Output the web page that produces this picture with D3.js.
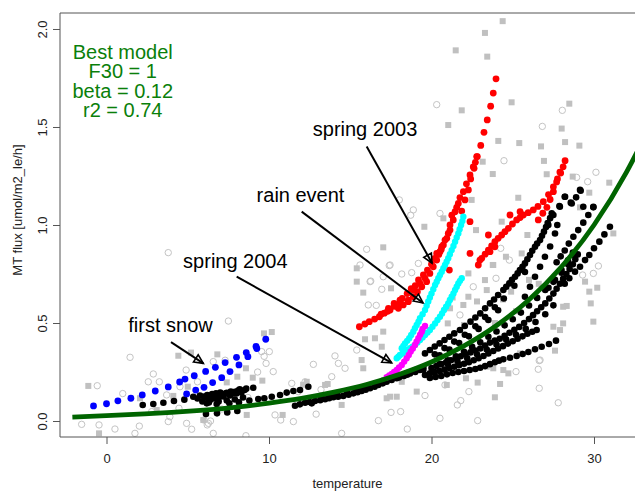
<!DOCTYPE html>
<html>
<head>
<meta charset="utf-8">
<script src="https://cdn.jsdelivr.net/npm/d3@7"></script>
<style>
  body { margin: 0; background: #fff; }
  svg { display: block; font-family: "Liberation Sans", Arial, sans-serif; }
</style>
</head>
<body>
<div id="chart"></div>
<script>
// ---- data (temperature, MT flux) ----
const greySquares = [
  [24.38,2.04],[23.29,1.98],[21.49,1.891],[23.43,1.859],[24.93,1.626],[21.86,1.585],[21.03,1.51],
  [24.11,1.429],[25.4,1.418],[26.74,1.401],[28.01,1.492],[28.22,1.423],[28.48,1.619],[29.1,1.405],
  [23.15,1.323],[23.77,1.26],[26.92,1.327],[27.09,1.259],[28.69,1.247],[30.94,1.216],[25.34,1.139],
  [22.47,1.128],[24.32,1.017],[19.56,0.991],[20.73,1.034],[17.03,0.886],[29.71,1.165],[31.19,0.957],
  [29.14,1.09],[25.9,0.949],[24.58,0.838],[23.77,0.796],[25.55,0.855],[29.45,0.711],[29.71,0.66],
  [23.29,0.719],[23.4,0.668],[28.32,0.587],[29.96,0.507],[28.1,0.498],[27.91,0.464],[27.6,0.359],
  [25.45,0.345],[23.8,0.269],[24.42,0.26],[24.73,0.243],[22.12,0.218],[22.84,0.196],[24.22,0.189],
  [23.9,0.121],[21.96,0.592],[22.27,0.634],[15.4,0.711],[15.91,0.417],[16.52,0.422],[15.7,0.311],
  [13.45,0.184],[14.47,0.082],[17.45,0.124],[17.86,0.124],[19.09,0.15],[18.17,0.2],[17.03,0.456],
  [16.94,0.379],[21.14,0.575],[22.27,0.753],[23.8,0.796],[23.4,0.277],[27.5,0.481],[28.1,0.583],
  [-1.12,0.179],[-0.46,-0.063],[4.42,0.333],[6.82,0.34],[5.2,0.349],[8.58,0.269],[8.05,0.226],
  [9.0,0.221],[9.59,0.206],[9.69,0.447],[10.17,0.454],[5.0,0.175],[4.11,0.128],[5.96,0.005],
  [8.63,0.031],[10.84,0.031],[12.32,0.2],[12.1,0.185],[13.61,0.189],[15.8,0.269],[17.24,0.116],
  [21.0,0.498],[20.94,0.184],[15.4,0.779],[15.8,0.655],[17.51,0.677],[22.74,0.974],[7.4,0.197],
  [3.09,0.056],[2.06,0.116],[21.3,0.63],[22.8,0.61],[24.4,0.62],[25.2,0.56],[23.9,0.5],[22.0,0.49],
  [26.0,0.72],[26.6,0.7],[24.9,0.66],[30.2,0.68],[29.8,0.6]
];

const greyCircles = [
  [20.32,1.614],[28.05,1.585],[26.82,1.503],[24.46,1.328],[30.12,1.269],[29.61,1.221],[28.93,1.243],
  [18.02,1.128],[18.88,1.077],[18.72,1.05],[20.52,1.059],[16.01,0.876],[30.27,0.791],[29.96,0.753],
  [29.3,0.745],[24.26,0.881],[23.97,0.728],[22.57,0.685],[21.75,0.541],[26.63,0.308],[26.57,0.264],
  [25.2,0.252],[26.63,0.167],[27.8,0.093],[21.8,0.104],[21.59,0.082],[22.84,0.002],[18.51,-0.041],
  [16.73,0.002],[17.51,0.044],[18.1,0.048],[20.52,0.014],[14.47,-0.063],[14.06,0.332],[14.68,0.269],
  [13.86,0.226],[16.22,0.711],[16.94,0.672],[17.45,0.796],[18.17,0.75],[18.78,0.757],[15.6,0.796],
  [16.11,0.592],[20.83,0.184],[24.79,0.821],[26.68,0.311],[-0.57,0.18],[1.45,0.325],[7.5,0.51],
  [-1.53,-0.017],[-0.46,-0.02],[0.52,-0.041],[1.75,-0.063],[2.88,0.24],[3.25,0.2],[4.46,0.065],
  [5.24,-0.042],[6.27,-0.012],[6.57,-0.063],[8.58,-0.075],[9.82,0.294],[10.02,0.354],[10.26,0.252],
  [12.73,0.289],[3.8,0.859],[10.72,0.005],[3.8,-0.003],[2.78,0.048],[7.09,0.061],[9.55,0.354],
  [11.4,0.192],[12.22,0.2],[10.37,0.031],[11.5,-0.003],[14.27,0.294],[15.4,0.362],[16.26,0.714],
  [17.03,0.736],[17.4,0.793],[19.19,0.804],[16.6,0.59],[9.7,0.33],[9.3,0.25],[8.7,0.12],[6.0,0.005],
  [6.4,0.0],[6.2,-0.02],[5.6,0.2],[7.3,0.31],[1.0,0.14],[4.9,0.26],[11.8,0.15],[13.2,0.16],
  [12.9,0.035],[19.6,0.13],[22.3,0.15],[2.57,0.2],[3.7,0.133],[2.02,-0.026],[3.9,0.022],[4.93,-0.012],
  [6.57,0.303],[4.52,0.175]
];

const blackTracks = [
  [[2.23,0.082],[2.88,0.087],[3.5,0.093],[4.15,0.102],[4.79,0.109],[5.34,0.124],[5.75,0.13],[6.2,0.133],
   [6.5,0.138],[6.74,0.141],[7.0,0.145],[7.4,0.144],[7.65,0.15],[7.9,0.149],[8.2,0.162],[8.5,0.158],[9.03,0.17]],
  [[5.9,0.1],[6.37,0.107],[6.6,0.115],[6.9,0.12],[7.2,0.125],[7.6,0.13],[8.0,0.14],[8.3,0.145],
   [6.1,0.12],[7.1,0.135],[7.8,0.14]],
  [[5.6,0.115],[6.0,0.125],[6.5,0.128],[7.0,0.132],[7.3,0.14],[7.7,0.145],[8.1,0.155],[8.6,0.165],
   [6.3,0.095],[6.9,0.1],[7.4,0.105],[7.9,0.11],[8.4,0.12]],
  [[6.17,0.09],[6.78,0.087],[7.56,0.09],[8.15,0.095],[8.79,0.104],[9.34,0.112],[9.71,0.116],[10.17,0.124],
   [10.68,0.133],[11.09,0.145],[11.5,0.153],[11.91,0.158],[12.42,0.175],[12.63,0.09]],
  [[6.12,0.036],[6.8,0.039],[7.43,0.044],[8.05,0.051]],
  [[11.6,0.078],[12.22,0.093],[12.83,0.102],[13.45,0.111],[13.96,0.121],[14.57,0.128],[15.19,0.141],
   [15.7,0.153],[16.22,0.167],[16.73,0.184],[17.24,0.2],[17.86,0.218],[18.3,0.23],[18.68,0.243],[19.29,0.26]],
  [[11.9,0.085],[12.5,0.097],[13.15,0.106],[13.7,0.116],[14.25,0.124],[14.9,0.134],[15.45,0.147],
   [15.95,0.16],[16.5,0.175],[17.0,0.192],[17.55,0.209],[18.0,0.222],[18.5,0.236],[19.0,0.25],[19.5,0.262]],
  [[13.2,0.125],[13.7,0.133],[14.2,0.14],[14.8,0.15],[15.4,0.163],[15.9,0.175],[16.5,0.19],[17.0,0.205],
   [17.5,0.215],[18.0,0.228],[18.5,0.245],[19.0,0.26],[19.5,0.275]],
  // bands below the model curve
  [[19.6,0.235],[19.9,0.243],[20.5,0.255],[21.1,0.27],[21.7,0.285],[22.3,0.3],[22.9,0.32],[23.5,0.345],
   [24.1,0.37],[24.7,0.395],[25.3,0.42],[25.9,0.445],[26.47,0.464]],
  [[20.2,0.25],[20.8,0.262],[21.4,0.277],[22.0,0.292],[22.6,0.31],[23.2,0.332],[23.8,0.357],[24.4,0.382],
   [25.0,0.407],[25.6,0.432],[26.2,0.455]],
  [[19.9,0.22],[20.6,0.23],[21.3,0.245],[22.0,0.255],[22.7,0.265],[23.3,0.28],[23.9,0.3],[24.42,0.315],
   [24.83,0.323],[25.24,0.332],[25.61,0.342],[25.96,0.352],[26.37,0.366],[26.78,0.379],[27.23,0.393],[27.66,0.41]],
  [[20.25,0.225],[20.95,0.238],[21.65,0.25],[22.35,0.26],[23.0,0.272],[23.6,0.29],[24.15,0.308]],
  [[21.0,0.29],[21.6,0.305],[22.2,0.32],[22.8,0.34],[23.4,0.365],[24.0,0.39],[24.6,0.415],[25.2,0.44],
   [25.8,0.47],[26.4,0.505],[27.0,0.545],[27.5,0.59]],
  [[20.0,0.27],[20.6,0.29],[21.2,0.31],[21.8,0.33],[22.4,0.35],[23.0,0.37],[23.6,0.4],[24.2,0.42],
   [24.8,0.45],[25.4,0.48],[26.0,0.52],[26.5,0.56],[27.0,0.6],[27.5,0.65],[27.9,0.7],[28.3,0.75],[28.7,0.8],[29.0,0.85]],
  [[20.3,0.28],[20.9,0.3],[21.5,0.32],[22.1,0.34],[22.7,0.36],[23.3,0.385],[23.9,0.41],[24.5,0.435],
   [25.1,0.465],[25.7,0.5],[26.25,0.54],[26.75,0.58],[27.25,0.625],[27.7,0.675],[28.1,0.725],[28.5,0.775],[28.85,0.825]],
  [[20.5,0.29],[21.0,0.31],[21.5,0.33],[22.0,0.353],[22.5,0.378],[23.0,0.402],[23.5,0.43],[24.0,0.457],
   [24.5,0.488],[25.0,0.519],[25.5,0.553],[26.0,0.589],[26.5,0.628],[27.0,0.668],[27.5,0.71],[28.0,0.757],
   [28.4,0.8],[28.8,0.845]],
  [[27.2,0.68],[27.6,0.72],[28.0,0.77],[28.4,0.82],[28.7,0.86]],
  // bands above the model curve
  [[19.6,0.345],[19.9,0.362],[20.5,0.396],[21.1,0.43],[21.75,0.464],[22.4,0.507],[23.0,0.549],[23.6,0.6],
   [24.1,0.643],[24.42,0.668],[24.79,0.702],[25.14,0.736],[25.44,0.77],[25.75,0.804],[26.06,0.847],
   [26.37,0.889],[26.68,0.923],[26.92,0.966],[27.15,1.01],[27.4,1.06],[27.87,1.097],[28.2,1.144],
   [28.57,1.114],[28.9,1.141],[29.18,1.175]],
  [[20.2,0.38],[20.8,0.413],[21.4,0.447],[22.05,0.485],[22.7,0.528],[23.3,0.575],[23.85,0.62],[24.6,0.685],
   [24.95,0.72],[25.3,0.753],[25.6,0.787],[25.9,0.825],[26.2,0.868],[26.5,0.905],[26.8,0.945],[27.05,0.99],[27.3,1.035]],
  [[20.2,0.34],[20.8,0.372],[21.4,0.405],[22.05,0.44],[22.7,0.483],[23.3,0.53],[23.9,0.58],[24.45,0.625],
   [25.1,0.69],[25.75,0.76]],
  [[20.5,0.335],[21.1,0.365],[21.7,0.398],[22.3,0.432],[22.9,0.47],[23.5,0.515],[24.1,0.565]],
  [[25.75,0.634],[26.06,0.685],[26.37,0.736],[26.68,0.787],[26.98,0.838],[27.3,0.89],[27.6,0.957],[27.74,1.0]],
  [[28.2,0.7],[28.48,0.728],[28.83,0.762],[29.14,0.787],[29.45,0.821],[29.71,0.847],[30.0,0.881],
   [30.33,0.915],[30.64,0.952],[30.98,0.991]],
  [[27.7,0.81],[27.95,0.84],[28.2,0.87],[28.45,0.905],[28.73,0.94],[29.03,0.974],[29.34,1.012],[29.65,1.051],[29.96,1.09]],
  [[27.19,1.0],[27.5,1.051],[27.9,1.093],[28.22,1.144],[28.63,1.11],[29.14,1.179],[29.34,1.093],[29.96,1.093]]
];

const blueSnow = [
  [-0.8,0.077],[0.0,0.088],[0.7,0.103],[1.5,0.116],[2.2,0.133],[3.0,0.153],[3.8,0.174],[4.5,0.199],
  [4.83,0.214],[5.4,0.231],[6.1,0.253],[6.7,0.274],[7.3,0.298],[8.0,0.325],[8.6,0.349],[9.2,0.38],[9.8,0.417],
  [4.93,0.138],[5.49,0.158],[6.0,0.172],[6.53,0.196],[7.09,0.221],[7.6,0.252],[8.15,0.286],[8.7,0.328],[9.25,0.37]
];

const redSpring2003 = [
  [17.35,0.575],[17.96,0.575],[18.06,0.617],[18.26,0.592],[18.57,0.609],[18.88,0.634],[18.88,0.668],
  [19.13,0.66],[19.29,0.702],[19.4,0.685],[19.6,0.728],[19.7,0.711],[19.9,0.753],[20.11,0.787],
  [20.32,0.821],[20.32,0.855],[20.52,0.864],[20.63,0.889],[20.73,0.898],[20.83,0.923],[20.94,0.932],
  [21.03,0.957],[21.14,0.974],[21.14,1.0],[21.34,1.026],[21.45,1.068],[21.65,1.11],[21.86,1.071],
  [21.96,1.17],[22.06,1.128],[22.27,1.179],[22.37,1.255],[22.41,1.235],[22.57,1.297],[22.62,1.289],
  [22.78,1.349],[22.82,1.349],[23.03,1.406],[23.23,1.473],[23.43,1.536],[23.64,1.606],[23.8,1.673],[23.97,1.746],
  [15.56,0.481],[16.17,0.507],[16.79,0.532],[17.1,0.55],[17.45,0.566],[17.7,0.585],[18.06,0.6],[18.57,0.617],
  [17.7,0.6],[18.2,0.625],[18.5,0.65],[18.75,0.675],[19.0,0.69],[19.2,0.72],[19.5,0.745],[19.75,0.77],
  [20.0,0.8],[20.2,0.83],[20.45,0.85],[20.6,0.875],[16.5,0.52],[16.9,0.545],[17.3,0.56],[15.9,0.495],
  [21.25,1.05],[21.55,1.09],[21.75,1.14],[22.15,1.21],[22.7,1.32],
  [21.1,0.77],[22.37,1.017]
];

const redRight = [
  [28.22,1.328],[28.1,1.297],[27.95,1.265],[27.75,1.235],[27.5,1.195],[27.2,1.155],[26.88,1.119],
  [26.55,1.095],[26.26,1.077],[25.95,1.063],[25.65,1.051],[25.45,1.038],[25.24,1.026],[24.98,1.005],
  [24.73,0.983],[24.52,0.966],[24.32,0.949],[24.1,0.932],[23.9,0.915],[23.7,0.893],[23.5,0.872],
  [23.3,0.851],[23.09,0.83],[22.88,0.796],
  [27.9,1.27],[27.7,1.22],[27.5,1.17],[27.3,1.13],[27.1,1.09],[26.85,1.06],[26.57,1.026],
  [22.37,0.855],[22.98,0.821],[23.5,0.949],[23.6,0.864],[23.9,0.889],[24.83,1.051],[25.45,1.068]
];

const cyanRain = [
  [21.96,1.042],[21.82,1.0],[21.65,0.957],[21.45,0.915],[21.24,0.872],[21.03,0.83],[20.83,0.796],
  [20.63,0.762],[20.42,0.728],[20.22,0.694],[20.0,0.65],[19.8,0.61],[19.6,0.566],[19.29,0.524],
  [19.09,0.49],[18.88,0.456],[18.63,0.422],[18.37,0.396],[18.17,0.371],
  [21.9,1.02],[21.73,0.978],[21.55,0.936],[21.35,0.893],[21.13,0.851],[20.93,0.813],[20.73,0.779],
  [20.52,0.745],[20.32,0.711],[20.11,0.672],[19.9,0.63],[19.7,0.588],[19.45,0.545],[19.2,0.507],
  [18.98,0.473],[18.75,0.439],[18.5,0.409],[18.27,0.383],
  [21.86,0.728],[21.65,0.702],[21.45,0.668],[21.24,0.634],[21.03,0.6],[20.77,0.566],[20.52,0.532],
  [20.22,0.498],[19.9,0.464],[19.6,0.439],[19.29,0.413],[18.98,0.388],[18.68,0.371],[18.37,0.354],
  [18.06,0.337],[17.86,0.32],
  [21.75,0.715],[21.55,0.685],[21.35,0.651],[21.13,0.617],[20.9,0.583],[20.65,0.549],[20.37,0.515],
  [20.06,0.481],[19.75,0.451],[19.45,0.426],[19.13,0.4],[18.83,0.379],[18.52,0.362],[18.22,0.345],[17.96,0.328]
];

const magentaSpring2004 = [
  [19.6,0.485],[19.4,0.456],[19.19,0.422],[18.98,0.388],[18.72,0.354],[18.47,0.32],[18.17,0.286],
  [17.86,0.26],[17.55,0.24],[17.24,0.223],
  [19.45,0.47],[19.3,0.44],[19.08,0.405],[18.85,0.37],[18.6,0.337],[18.32,0.303],[18.0,0.273],[17.7,0.25],[17.4,0.232]
];

// best model curve
const modelT = [-2.1, 0, 2, 4, 6, 8, 10, 12, 14, 16, 18, 20, 22, 24, 26, 28, 30, 32, 33];
const modelF = [0.02, 0.027, 0.035, 0.044, 0.056, 0.071, 0.091, 0.115, 0.147, 0.186, 0.237, 0.301,
                0.383, 0.487, 0.619, 0.787, 1.0, 1.27, 1.43];

const xTicks = [0, 10, 20, 30];
const yTicks = [0, 0.5, 1.0, 1.5, 2.0];

const modelText = ['Best model', 'F30 = 1', 'beta = 0.12', 'r2 = 0.74'];
const labels = [
  { text: 'spring 2003', t: 15.91, f: 1.454 },
  { text: 'rain event', t: 11.94, f: 1.117 },
  { text: 'spring 2004', t: 7.93, f: 0.781 },
  { text: 'first snow', t: 3.94, f: 0.454 }
];
const arrows = [
  { from: [16.01, 1.4], to: [20.03, 0.806] },
  { from: [12.01, 1.068], to: [19.48, 0.602] },
  { from: [8.01, 0.736], to: [17.55, 0.297] },
  { from: [3.97, 0.402], to: [5.96, 0.294] }
];

// ---- drawing ----
const W = 635, H = 491;
const plot = { left: 60, top: 13, bottom: 437, right: 640 };

const svg = d3.select('#chart').append('svg').attr('width', W).attr('height', H);

const x = d3.scaleLinear().domain([-2.862, 32.523]).range([60, 635]);
const y = d3.scaleLinear().domain([-0.0816, 2.0816]).range([437, 13]);

svg.append('defs').append('clipPath').attr('id', 'clip')
  .append('rect')
  .attr('x', plot.left).attr('y', plot.top)
  .attr('width', plot.right - plot.left).attr('height', plot.bottom - plot.top);

const g = svg.append('g').attr('clip-path', 'url(#clip)');

g.append('g').selectAll('circle')
  .data(greyCircles).enter().append('circle')
  .attr('cx', (d) => x(d[0])).attr('cy', (d) => y(d[1]))
  .attr('r', 3.2)
  .style('fill', 'none').style('stroke', '#c4c4c4').style('stroke-width', 1);

g.append('g').selectAll('rect')
  .data(greySquares).enter().append('rect')
  .attr('x', (d) => x(d[0]) - 3).attr('y', (d) => y(d[1]) - 3)
  .attr('width', 6).attr('height', 6)
  .style('fill', '#c0c0c0');

function dots(data, color, r) {
  g.append('g').selectAll('circle')
    .data(data).enter().append('circle')
    .attr('cx', (d) => x(d[0])).attr('cy', (d) => y(d[1]))
    .attr('r', r)
    .style('fill', color);
}

dots(blackTracks.flat(), '#000', 3.3);
dots(blueSnow, '#0000ff', 3.4);
dots(redSpring2003, '#ff0000', 3.4);
dots(redRight, '#ff0000', 3.4);
dots(cyanRain, '#00ffff', 3.2);
dots(magentaSpring2004, '#ff00ff', 3.2);

const line = d3.line()
  .x((d, i) => x(modelT[i]))
  .y((d) => y(d))
  .curve(d3.curveMonotoneX);

g.append('path')
  .attr('d', line(modelF))
  .style('fill', 'none')
  .style('stroke', '#006400')
  .style('stroke-width', 4.8);

// box
svg.append('path')
  .attr('d', `M${plot.right},${plot.top}H${plot.left}V${plot.bottom}H${plot.right}`)
  .style('fill', 'none').style('stroke', '#555').style('stroke-width', 1);

// axes
const xAxis = svg.append('g')
  .attr('transform', `translate(0, ${plot.bottom})`)
  .call(d3.axisBottom(x).tickValues(xTicks).tickSize(7).tickPadding(10).tickFormat(d3.format('d')));
xAxis.select('.domain').remove();
xAxis.selectAll('line').style('stroke', '#555');
xAxis.selectAll('text').style('font-size', '13px').style('fill', '#222')
  .style('font-family', '"Liberation Sans", Arial, sans-serif');

const yAxis = svg.append('g')
  .attr('transform', `translate(${plot.left}, 0)`)
  .call(d3.axisLeft(y).tickValues(yTicks).tickSize(7).tickFormat(d3.format('.1f')));
yAxis.select('.domain').remove();
yAxis.selectAll('line').style('stroke', '#555');
yAxis.selectAll('text')
  .attr('x', 0).attr('dy', 0)
  .attr('transform', 'translate(-13, 0) rotate(-90)')
  .attr('text-anchor', 'middle')
  .style('font-size', '13px').style('fill', '#222')
  .style('font-family', '"Liberation Sans", Arial, sans-serif');

svg.append('text')
  .attr('x', 347.5).attr('y', 488)
  .attr('text-anchor', 'middle')
  .style('font-size', '13px').style('fill', '#222')
  .text('temperature');

svg.append('text')
  .attr('transform', 'translate(22, 210) rotate(-90)')
  .attr('text-anchor', 'middle')
  .style('font-size', '13px').style('fill', '#222')
  .text('MT flux [umol/m2_le/h]');

// model text
svg.append('g').selectAll('text')
  .data(modelText).enter().append('text')
  .attr('x', x(1.0))
  .attr('y', (d, i) => y(1.845) + i * 19.1)
  .attr('text-anchor', 'middle')
  .style('font-size', '20px')
  .style('fill', '#0a7f0a')
  .text((d) => d);

// arrows
arrows.forEach((a) => {
  const x0 = x(a.from[0]), y0 = y(a.from[1]);
  const x1 = x(a.to[0]), y1 = y(a.to[1]);
  const ang = Math.atan2(y1 - y0, x1 - x0);
  const len = 10, spread = Math.PI / 7;
  const p1 = [x1 - len * Math.cos(ang - spread), y1 - len * Math.sin(ang - spread)];
  const p2 = [x1 - len * Math.cos(ang + spread), y1 - len * Math.sin(ang + spread)];
  svg.append('line')
    .attr('x1', x0).attr('y1', y0).attr('x2', x1).attr('y2', y1)
    .style('stroke', '#000').style('stroke-width', 2);
  svg.append('path')
    .attr('d', `M${p1[0]},${p1[1]}L${x1},${y1}L${p2[0]},${p2[1]}Z`)
    .style('fill', 'none').style('stroke', '#000').style('stroke-width', 1.6)
    .style('stroke-linejoin', 'miter');
});

svg.append('g').selectAll('text')
  .data(labels).enter().append('text')
  .attr('x', (d) => x(d.t)).attr('y', (d) => y(d.f))
  .attr('text-anchor', 'middle')
  .style('font-size', '20px')
  .style('fill', '#000')
  .text((d) => d.text);
</script>
</body>
</html>
